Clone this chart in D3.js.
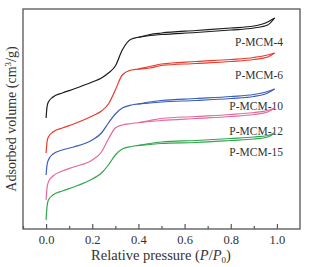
<!DOCTYPE html>
<html>
<head>
<meta charset="utf-8">
<script src="https://cdn.jsdelivr.net/npm/d3@7"></script>
<style>
  body { margin: 0; background: #fff; }
  svg text { font-family: "Liberation Serif", "DejaVu Serif", serif; fill: #333; }
</style>
</head>
<body>
<div id="chart"></div>
<script>
// relative pressure P/P0 and adsorbed volume (arbitrary, curves stacked)
const names = ['P-MCM-4', 'P-MCM-6', 'P-MCM-10', 'P-MCM-12', 'P-MCM-15'];
const colors = ['#1a1a1a', '#e8392c', '#3b5cb8', '#e5689b', '#2fa64c'];

const adsP = [0, 0.004, 0.01, 0.03, 0.07, 0.12, 0.2, 0.24, 0.27, 0.3, 0.33, 0.37, 0.45, 0.5, 0.65, 0.8, 0.9, 0.96, 0.99];
const desP = [0.99, 0.96, 0.9, 0.8, 0.65, 0.5, 0.45, 0.4];

const ads4  = [111, 122, 127, 132, 136, 140, 147, 151, 156, 163, 179, 190, 193.5, 194.5, 196.5, 199, 201, 204, 211];
const des4  = [211, 207, 203, 201, 198.5, 196, 194.5, 191.5];
const ads6  = [76, 87, 92, 97, 101, 105, 113, 118, 125, 139, 154, 159, 161, 163.5, 165.5, 167.5, 169.5, 172, 176];
const des6  = [176, 174, 171.5, 169.5, 167.5, 165, 162.5, 160.2];
const ads10 = [54, 64, 69, 75, 79, 82, 89, 96, 106, 115, 121, 124, 126, 127, 128.5, 130.5, 132.5, 136, 140];
const des10 = [140, 137.5, 134.5, 132.5, 130.5, 128.5, 127, 124.8];
const ads12 = [29, 41, 47, 53, 58, 62, 69, 77, 90, 101, 104, 105.5, 107.5, 108.5, 110.5, 112.5, 114.5, 117, 121];
const des12 = [121, 118.5, 116.5, 114.5, 112.5, 110.5, 108.5, 106.3];
const ads15 = [9, 22, 29, 34, 38, 42, 50, 56, 64, 74, 80, 82.5, 84.5, 85.5, 86.5, 88.5, 90, 92, 96];
const des15 = [96, 93.5, 92, 90.5, 88.5, 87, 85.5, 83.3];

const labelY = [183, 150, 119, 94, 73];

const xTicks = [0, 0.2, 0.4, 0.6, 0.8, 1.0];
const xMinor = [-0.1, 0.1, 0.3, 0.5, 0.7, 0.9];

const adsAll = [ads4, ads6, ads10, ads12, ads15];
const desAll = [des4, des6, des10, des12, des15];

const width = 314, height = 267;
const margin = { left: 23, top: 9, right: 14, bottom: 38 };

const svg = d3.select('#chart').append('svg')
    .attr('width', width)
    .attr('height', height);

const x = d3.scaleLinear().domain([-0.1, 1.1]).range([margin.left, width - margin.right]);
const y = d3.scaleLinear().domain([0, 220]).range([height - margin.bottom, margin.top]);

const line = d3.line()
    .x(d => x(d[0]))
    .y(d => y(d[1]))
    .curve(d3.curveMonotoneX);

names.forEach((name, i) => {
    const ads = adsP.map((p, j) => [p, adsAll[i][j]]);
    const des = desP.map((p, j) => [p, desAll[i][j]]).reverse();
    [ads, des].forEach(branch => {
        svg.append('path')
            .attr('d', line(branch))
            .attr('fill', 'none')
            .attr('stroke', colors[i])
            .attr('stroke-width', 1.2);
    });
    svg.append('text')
        .attr('x', 283)
        .attr('y', y(labelY[i]))
        .attr('text-anchor', 'end')
        .style('font-size', '11.5px')
        .text(name);
});

// frame
svg.append('rect')
    .attr('x', margin.left)
    .attr('y', margin.top)
    .attr('width', width - margin.left - margin.right)
    .attr('height', height - margin.top - margin.bottom)
    .attr('fill', 'none')
    .attr('stroke', '#555')
    .attr('stroke-width', 1.3);

// bottom axis, ticks pointing inward
const xAxis = svg.append('g')
    .attr('transform', `translate(0,${height - margin.bottom})`)
    .call(d3.axisBottom(x).tickValues(xTicks).tickSize(-5).tickFormat(d3.format('.1f')).tickPadding(6));
xAxis.select('.domain').remove();
xAxis.selectAll('line').attr('stroke', '#555').attr('stroke-width', 1.2);
xAxis.selectAll('text')
    .style('font-size', '12.5px')
    .style('font-family', '"Liberation Serif", serif')
    .attr('fill', '#333');

const xMinorAxis = svg.append('g')
    .attr('transform', `translate(0,${height - margin.bottom})`)
    .call(d3.axisBottom(x).tickValues(xMinor).tickSize(-3).tickFormat(''));
xMinorAxis.select('.domain').remove();
xMinorAxis.selectAll('line').attr('stroke', '#555').attr('stroke-width', 1.2);

// axis titles
const xt = svg.append('text')
    .attr('x', 161)
    .attr('y', 260)
    .attr('text-anchor', 'middle')
    .style('font-size', '14.5px');
xt.append('tspan').text('Relative pressure (');
xt.append('tspan').style('font-style', 'italic').text('P');
xt.append('tspan').text('/');
xt.append('tspan').style('font-style', 'italic').text('P');
xt.append('tspan').attr('dy', 3).style('font-size', '9px').text('0');
xt.append('tspan').attr('dy', -3).text(')');

const yt = svg.append('text')
    .attr('transform', `translate(16,${(margin.top + height - margin.bottom) / 2}) rotate(-90)`)
    .attr('text-anchor', 'middle')
    .style('font-size', '14px');
yt.append('tspan').text('Adsorbed volume (cm');
yt.append('tspan').attr('dy', -5).style('font-size', '9px').text('3');
yt.append('tspan').attr('dy', 5).text('/g)');
</script>
</body>
</html>
